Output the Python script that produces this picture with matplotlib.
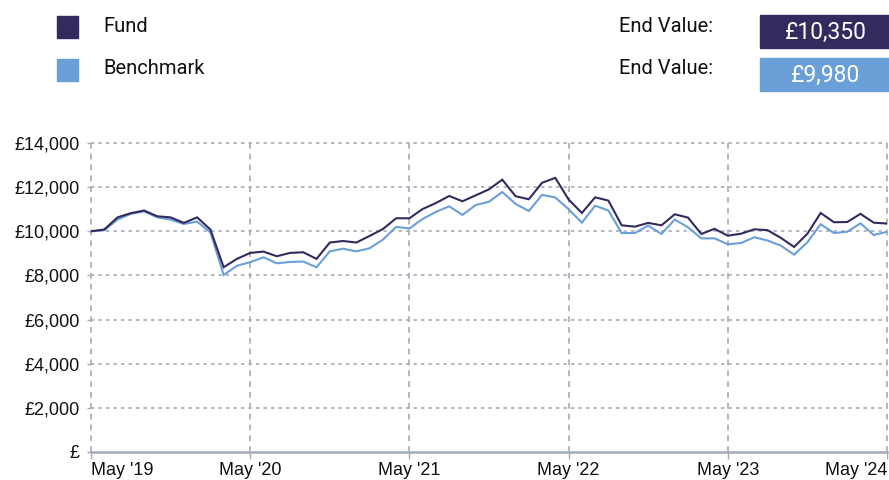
import matplotlib.pyplot as plt
import numpy as np

# monthly values, May 2019 -> May 2024 (61 points)
fund = [10000, 10080, 10630, 10820, 10940, 10680, 10630, 10380, 10630, 10080,
        8370, 8750, 9020, 9080, 8870, 9020, 9050, 8750, 9490, 9560,
        9490, 9790, 10100, 10590, 10590, 11010, 11280, 11600, 11360, 11630,
        11900, 12340, 11590, 11450, 12200, 12420, 11440, 10830, 11540, 11390,
        10270, 10210, 10380, 10270, 10770, 10620, 9880, 10110, 9800, 9890,
        10090, 10050, 9700, 9290, 9890, 10830, 10410, 10420, 10790, 10390,
        10350]
benchmark = [10000, 10050, 10530, 10790, 10900, 10630, 10530, 10330, 10440, 9950,
             8020, 8440, 8600, 8820, 8550, 8610, 8630, 8370, 9090, 9210,
             9090, 9230, 9620, 10200, 10130, 10560, 10880, 11130, 10740, 11190,
             11340, 11780, 11240, 10920, 11650, 11530, 11000, 10390, 11160, 10940,
             9920, 9920, 10260, 9880, 10530, 10180, 9680, 9680, 9410, 9470,
             9730, 9580, 9350, 8940, 9500, 10320, 9920, 9980, 10360, 9830,
             9980]
x_ticks = [0, 12, 24, 36, 48, 60]
x_labels = ["May '19", "May '20", "May '21", "May '22", "May '23", "May '24"]
y_ticks = [0, 2000, 4000, 6000, 8000, 10000, 12000, 14000]
end_fund = "£10,350"
end_bench = "£9,980"

FUND_C = "#342a5e"
BENCH_C = "#6a9fd8"
GRID_C = "#a3acb8"

fig = plt.figure(figsize=(8.89, 4.8), dpi=100)
ax = fig.add_axes([91/889, 28/480, 796/889, 309/480])

months = np.arange(len(fund))
ax.plot(months, benchmark, color=BENCH_C, lw=1.5, solid_joinstyle='miter', zorder=3)
ax.plot(months, fund, color=FUND_C, lw=1.5, solid_joinstyle='miter', zorder=4)

ax.set_xlim(0, 60)
ax.set_ylim(0, 14000)

ax.set_xticks(x_ticks)
ax.set_xticklabels(x_labels)
ax.set_yticks(y_ticks)
ax.set_yticklabels(["£" if v == 0 else f"£{v:,}" for v in y_ticks])

# grid: dotted horizontal, dashed vertical
for v in y_ticks[1:]:
    ax.axhline(v, color=GRID_C, lw=1.2, linestyle=(0, (2, 2.5)), zorder=1, clip_on=False)
for m in x_ticks:
    ax.axvline(m, color=GRID_C, lw=1.2, linestyle=(0, (3.5, 3)), zorder=1, clip_on=False)

for s in ['top', 'right', 'left']:
    ax.spines[s].set_visible(False)
ax.spines['bottom'].set_color(GRID_C)
ax.spines['bottom'].set_linewidth(1.8)

ax.tick_params(axis='x', colors=GRID_C, length=5, width=1, labelcolor='#111111',
               labelsize=13, pad=2)
ax.tick_params(axis='y', colors=GRID_C, length=3, width=1, labelcolor='#111111',
               labelsize=13, pad=5)
for lab in ax.get_xticklabels() + ax.get_yticklabels():
    lab.set_fontfamily('Liberation Sans')
xl = ax.get_xticklabels()
xl[0].set_horizontalalignment('left')
xl[-1].set_horizontalalignment('right')

# legend / end value header
leg_font = 'Roboto'
fig.patches.append(plt.Rectangle((57/889, 1 - 38/480), 21/889, 22/480,
                                 transform=fig.transFigure, color=FUND_C))
fig.patches.append(plt.Rectangle((57/889, 1 - 81/480), 21/889, 22/480,
                                 transform=fig.transFigure, color=BENCH_C))
for yy, txt in [(27, "Fund"), (69, "Benchmark")]:
    fig.text(103/889, 1 - yy/480, txt, fontsize=14.5, family=leg_font,
             va='center', color='#111111')
    fig.text(619/889, 1 - yy/480, "End Value:", fontsize=14.5, family=leg_font,
             va='center', color='#111111')
fig.patches.append(plt.Rectangle((760/889, 1 - 48/480), 129/889, 33/480,
                                 transform=fig.transFigure, color=FUND_C))
fig.patches.append(plt.Rectangle((760/889, 1 - 91/480), 129/889, 33/480,
                                 transform=fig.transFigure, color=BENCH_C))
fig.text(826/889, 1 - 32/480, end_fund, fontsize=16.5, family=leg_font,
         ha='center', va='center', color='white')
fig.text(826/889, 1 - 75/480, end_bench, fontsize=16.5, family=leg_font,
         ha='center', va='center', color='white')

fig.savefig("out.png", dpi=100)
